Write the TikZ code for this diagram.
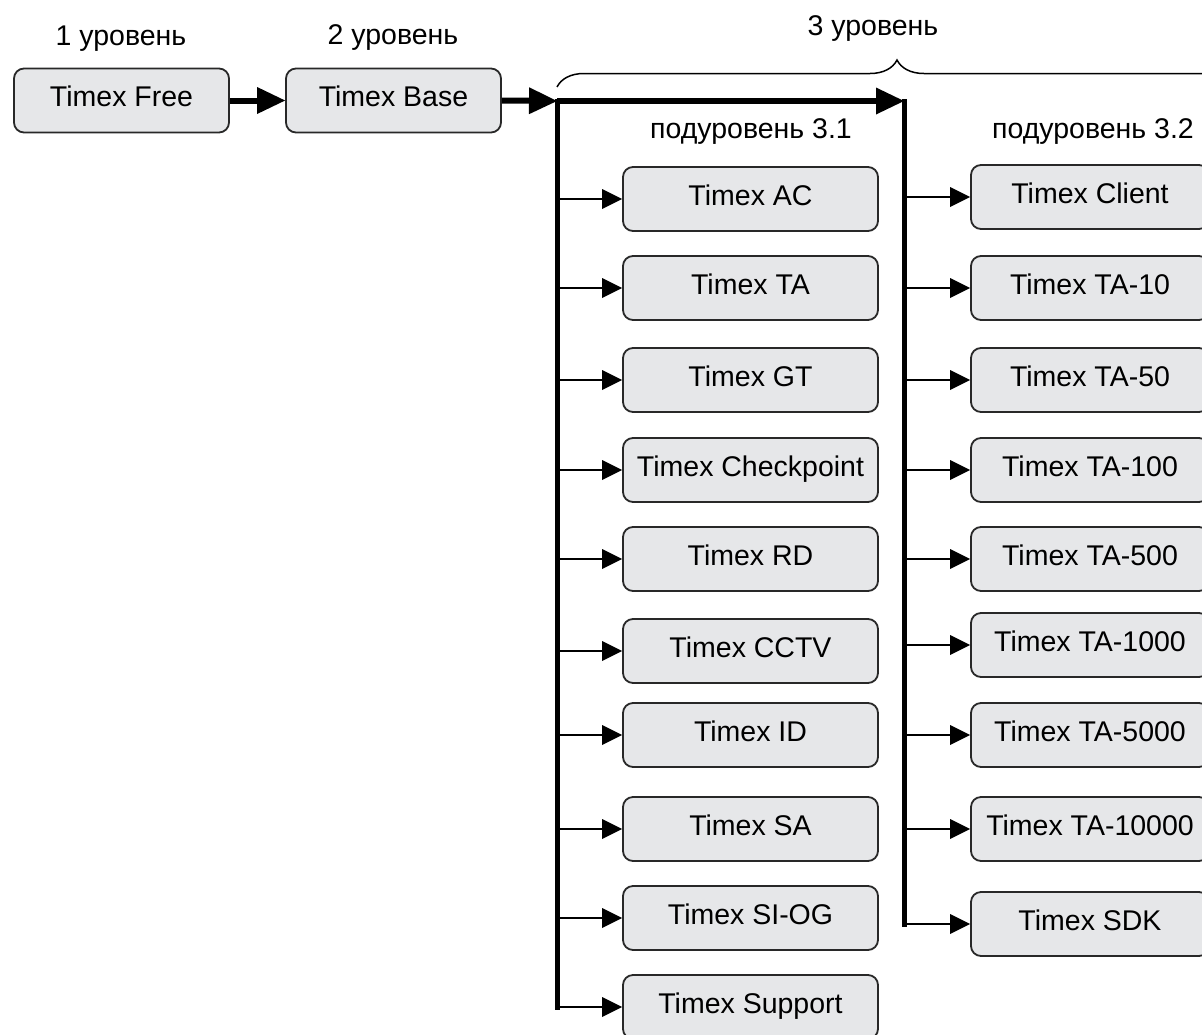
\documentclass[tikz,border=0pt]{standalone}
\usepackage{fontspec}
\setmainfont{Liberation Sans}
\usetikzlibrary{arrows.meta,decorations.pathreplacing}
\definecolor{boxfill}{RGB}{230,231,233}
\definecolor{boxline}{RGB}{40,40,40}
\begin{document}
\begin{tikzpicture}[x=1pt,y=-1pt,
  box/.style={draw=boxline, line width=1.8pt, fill=boxfill, rounded corners=10pt,
    minimum height=64pt, text height=20pt, text depth=8pt,
    font=\fontsize{28.5}{34}\selectfont, inner sep=0pt},
  lbox/.style={box, minimum width=255pt},
  rbox/.style={box, minimum width=238pt},
  tbox/.style={box, minimum width=215pt},
  lbl/.style={anchor=base, font=\fontsize{28.5}{34}\selectfont, inner sep=0pt},
  bus/.style={line width=5pt, line cap=rect},
  bigarr/.style={line width=6pt, -{Triangle[length=28pt,width=27pt,line width=0pt]}},
  smallarr/.style={line width=2pt, -{Triangle[length=20pt,width=20pt,line width=0pt]}},
  bracestyle/.style={line width=1.5pt, decorate, decoration={brace, amplitude=27pt}}
]
\useasboundingbox (0,0) rectangle (1202,1034);

% labels
\node[lbl] (l1) at (121,45) {1 уровень};
\node[lbl] (l2) at (393,44) {2 уровень};
\node[lbl] (l3) at (873,35) {3 уровень};
\node[lbl] (l31) at (751,138) {подуровень 3.1};
\node[lbl] (l32) at (1093,138) {подуровень 3.2};

% top boxes
\node[tbox] (free) at (121.5,100.5) {Timex Free};
\node[tbox] (base) at (393.5,100.5) {Timex Base};

% level 3.1
\node[lbox] (ac)   at (750.5,199) {Timex AC};
\node[lbox] (ta)   at (750.5,288) {Timex TA};
\node[lbox] (gt)   at (750.5,380) {Timex GT};
\node[lbox] (cp)   at (750.5,470) {Timex Checkpoint};
\node[lbox] (rd)   at (750.5,559) {Timex RD};
\node[lbox] (cctv) at (750.5,651) {Timex CCTV};
\node[lbox] (id)   at (750.5,735) {Timex ID};
\node[lbox] (sa)   at (750.5,829) {Timex SA};
\node[lbox] (siog) at (750.5,918) {Timex SI-OG};
\node[lbox] (sup)  at (750.5,1007) {Timex Support};

% level 3.2
\node[rbox] (cl)   at (1090,197) {Timex Client};
\node[rbox] (t10)  at (1090,288) {Timex TA-10};
\node[rbox] (t50)  at (1090,380) {Timex TA-50};
\node[rbox] (t100) at (1090,470) {Timex TA-100};
\node[rbox] (t500) at (1090,559) {Timex TA-500};
\node[rbox] (t1k)  at (1090,645) {Timex TA-1000};
\node[rbox] (t5k)  at (1090,735) {Timex TA-5000};
\node[rbox] (t10k) at (1090,829) {Timex TA-10000};
\node[rbox] (sdk)  at (1090,924) {Timex SDK};

\coordinate (busA) at (557,101);
\coordinate (busB) at (904,101);

% brace
\draw[bracestyle] (557,87) -- (1237,87);

% buses
\draw[bus] (busA) -- (busA |- sup.west);
\draw[bus] (busB) -- (busB |- sdk.west);

% main arrows
\draw[bigarr] (free.east) -- (base.west);
\draw[bigarr] (base.east) -- (busA);
\draw[bigarr] (busA) -- (busB);

% branch arrows
\foreach \n in {ac,ta,gt,cp,rd,cctv,id,sa,siog,sup}
  \draw[smallarr] (busA |- \n.west) -- (\n.west);
\foreach \n in {cl,t10,t50,t100,t500,t1k,t5k,t10k,sdk}
  \draw[smallarr] (busB |- \n.west) -- (\n.west);
\end{tikzpicture}
\end{document}
